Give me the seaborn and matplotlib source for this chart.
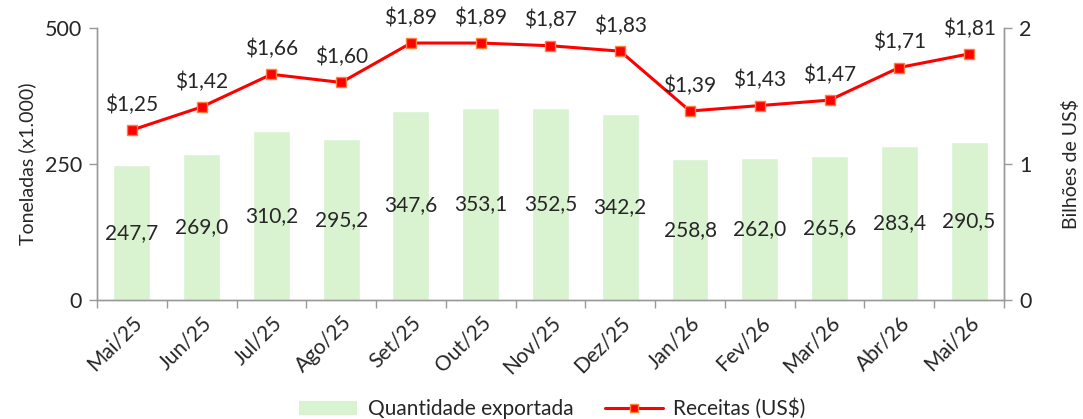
import matplotlib.pyplot as plt
import seaborn as sns
import pandas as pd
from matplotlib.ticker import FixedLocator, NullFormatter
from matplotlib.lines import Line2D
from matplotlib.patches import Patch

sns.set_theme(style="white")
plt.rcParams['font.family'] = ['Lato', 'DejaVu Sans']

meses = ["Mai/25", "Jun/25", "Jul/25", "Ago/25", "Set/25", "Out/25", "Nov/25",
         "Dez/25", "Jan/26", "Fev/26", "Mar/26", "Abr/26", "Mai/26"]
toneladas = [247.7, 269.0, 310.2, 295.2, 347.6, 353.1, 352.5, 342.2, 258.8, 262.0, 265.6, 283.4, 290.5]
receitas = [1.25, 1.42, 1.66, 1.60, 1.89, 1.89, 1.87, 1.83, 1.39, 1.43, 1.47, 1.71, 1.81]

df = pd.DataFrame({"Mes": meses, "Toneladas": toneladas, "Receitas": receitas})

fig = plt.figure(figsize=(10.83, 4.19), dpi=100)
ax = fig.add_axes([0.0896, 0.284, 0.8374, 0.649])

bar_color = "#d9f2d0"
sns.barplot(data=df, x="Mes", y="Toneladas", color=bar_color, width=0.53,
            saturation=1, ax=ax)
ax.set_ylim(0, 500)
ax.set_yticks([0, 250, 500])
ax.set_xlim(-0.5, len(meses) - 0.5)
ax.set_xlabel("")
ax.set_ylabel("Toneladas (x1.000)", fontsize=14, labelpad=6)

for i, v in enumerate(toneladas):
    ax.text(i, v / 2, f"{v:.1f}".replace(".", ","), ha="center", va="center", fontsize=15)

ax2 = ax.twinx()
ax2.set_position(ax.get_position())
sns.lineplot(data=df, x="Mes", y="Receitas", color="#ff0000", linewidth=2.2,
             marker="s", markersize=7, markerfacecolor="#ff0000",
             markeredgecolor="#ff7f3f", markeredgewidth=1, ax=ax2)
ax2.set_ylim(0, 2)
ax2.set_yticks([0, 1, 2])
ax2.set_xlim(-0.5, len(meses) - 0.5)
ax2.set_ylabel("Bilhões de US$", fontsize=14, labelpad=22)
ax2.set_xlabel("")

for i, v in enumerate(receitas):
    ax2.annotate(f"${v:.2f}".replace(".", ","), (i, v), xytext=(0, 11),
                 textcoords="offset points", ha="center", va="bottom", fontsize=15)

for a in (ax, ax2):
    a.spines["top"].set_visible(False)
    for s in ("left", "right", "bottom"):
        a.spines[s].set_color("#999999")
        a.spines[s].set_linewidth(1)
    a.tick_params(axis="y", labelsize=15.5, length=6, color="#999999", width=1, pad=5)

ax.tick_params(axis="x", which="major", length=0, labelsize=15, pad=9)
ax.xaxis.set_minor_locator(FixedLocator([i - 0.5 for i in range(len(meses) + 1)]))
ax.xaxis.set_minor_formatter(NullFormatter())
ax.tick_params(axis="x", which="minor", length=6, color="#999999", width=1, direction="out")
plt.setp(ax.get_xticklabels(), rotation=45, ha="right", rotation_mode="anchor")
ax.tick_params(axis="x", bottom=True, which="both")
ax2.tick_params(axis="x", which="both", length=0, labelbottom=False)

handles = [Patch(facecolor=bar_color, edgecolor="none"),
           Line2D([], [], color="#ff0000", linewidth=2.2, marker="s", markersize=6,
                  markerfacecolor="#ff0000", markeredgecolor="#ff7f3f")]
fig.legend(handles, ["Quantidade exportada", "Receitas (US$)"], loc="lower center",
           bbox_to_anchor=(0.51, -0.045), ncol=2, frameon=False, fontsize=15,
           handlelength=2.8, handletextpad=0.5, columnspacing=1.5)

fig.savefig("out.png", dpi=100)
